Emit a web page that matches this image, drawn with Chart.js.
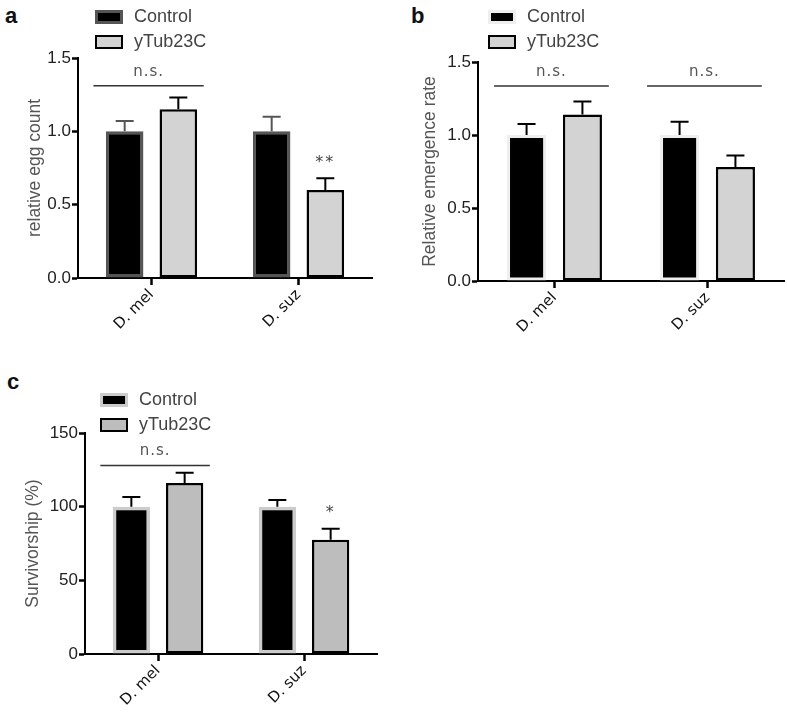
<!DOCTYPE html>
<html>
<head>
<meta charset="utf-8">
<script src="https://cdn.jsdelivr.net/npm/chart.js@4.4.1/dist/chart.umd.min.js"></script>
<style>
  body { margin: 0; background: #fff; }
  #fig { position: relative; width: 787px; height: 712px; font-family: "Liberation Sans", Arial, sans-serif; }
  .panel { position: absolute; }
  .letter { position: absolute; font-weight: bold; font-size: 22px; color: #111; line-height: 1; }
  .legend { position: absolute; font-size: 18px; color: #444; }
  .legend .item { display: flex; align-items: center; height: 25px; }
  .swatch { box-sizing: border-box; width: 28px; height: 14px; margin-right: 11px; }
</style>
</head>
<body>
<div id="fig">
  <div class="letter" style="left:5px;top:5px;">a</div>
  <div class="letter" style="left:411px;top:5px;">b</div>
  <div class="letter" style="left:7px;top:371px;">c</div>

  <canvas id="chartA" class="panel" width="390" height="375" style="left:0;top:0;"></canvas>
  <canvas id="chartB" class="panel" width="397" height="375" style="left:390px;top:0;"></canvas>
  <canvas id="chartC" class="panel" width="390" height="337" style="left:0;top:375px;"></canvas>

  <div class="legend" id="legendA" style="left:95px;top:4px;"></div>
  <div class="legend" id="legendB" style="left:488px;top:4px;"></div>
  <div class="legend" id="legendC" style="left:100px;top:387px;"></div>
</div>

<script>
"use strict";

// categories / series
const categories = ["D. mel", "D. suz"];
const seriesNames = ["Control", "yTub23C"];

// a - egg count
const eggControl = [1.0, 1.0];
const eggControlErr = [0.07, 0.10];
const eggTub = [1.15, 0.60];
const eggTubErr = [0.08, 0.08];
const eggTicks = [0, 0.5, 1.0, 1.5];

// b - emergence
const emergControl = [1.0, 1.0];
const emergControlErr = [0.075, 0.09];
const emergTub = [1.14, 0.78];
const emergTubErr = [0.09, 0.08];
const emergTicks = [0, 0.5, 1.0, 1.5];

// c - survivorship
const survControl = [100, 100];
const survControlErr = [6.6, 4.5];
const survTub = [116, 77.5];
const survTubErr = [7, 7.5];
const survTicks = [0, 50, 100, 150];

// significance marks (values in data units)
const eggSig = [{ cat: 0, text: "n.s.", value: 1.31 }];
const eggStars = [{ cat: 1, series: 1, text: "**", value: 0.76 }];
const emergSig = [{ cat: 0, text: "n.s.", value: 1.335 }, { cat: 1, text: "n.s.", value: 1.335 }];
const emergStars = [];
const survSig = [{ cat: 0, text: "n.s.", value: 128 }];
const survStars = [{ cat: 1, series: 1, text: "*", value: 93 }];

// error bars + n.s. lines + stars
const annotPlugin = {
  id: "annot",
  afterDatasetsDraw(chart, args, opts) {
    const ctx = chart.ctx;
    const xs = chart.scales.x;
    const ys = chart.scales.y;

    chart.data.datasets.forEach((ds, i) => {
      const meta = chart.getDatasetMeta(i);
      meta.data.forEach((bar, j) => {
        const top = ys.getPixelForValue(ds.data[j]);
        const end = ys.getPixelForValue(ds.data[j] + ds.errors[j]);
        ctx.save();
        ctx.strokeStyle = ds.errorColor;
        ctx.lineWidth = 2;
        ctx.beginPath();
        ctx.moveTo(bar.x, top);
        ctx.lineTo(bar.x, end);
        ctx.moveTo(bar.x - 9, end);
        ctx.lineTo(bar.x + 9, end);
        ctx.stroke();
        ctx.restore();
      });
    });

    const catW = (xs.right - xs.left) / categories.length;
    (opts.sig || []).forEach((s) => {
      const cx = xs.getPixelForValue(s.cat);
      const y = ys.getPixelForValue(s.value);
      const x1 = cx - catW * 0.395;
      const x2 = cx + catW * 0.355;
      ctx.save();
      ctx.strokeStyle = "#333";
      ctx.lineWidth = 1.5;
      ctx.beginPath();
      ctx.moveTo(x1, y);
      ctx.lineTo(x2, y);
      ctx.stroke();
      ctx.fillStyle = "#555";
      ctx.font = "15px 'DejaVu Sans'";
      ctx.letterSpacing = "1px";
      ctx.textAlign = "center";
      ctx.textBaseline = "alphabetic";
      ctx.fillText(s.text, (x1 + x2) / 2, y - 10);
      ctx.restore();
    });

    (opts.stars || []).forEach((s) => {
      const bar = chart.getDatasetMeta(s.series).data[s.cat];
      ctx.save();
      ctx.fillStyle = "#444";
      ctx.font = "16px 'DejaVu Sans'";
      ctx.letterSpacing = "2px";
      ctx.textAlign = "center";
      ctx.textBaseline = "alphabetic";
      ctx.fillText(s.text, bar.x, ys.getPixelForValue(s.value));
      ctx.restore();
    });
  },
};

function barSet(label, data, errors, fill, border, bw, errColor) {
  return {
    label: label,
    data: data,
    errors: errors,
    errorColor: errColor,
    backgroundColor: fill,
    borderColor: border,
    borderWidth: bw,
    borderSkipped: false,
    categoryPercentage: 0.73,
    barPercentage: 0.7,
  };
}

function makeChart(id, g, datasets, yTicks, yTitle, fmt, sig, stars) {
  return new Chart(document.getElementById(id), {
    type: "bar",
    data: { labels: categories, datasets: datasets },
    options: {
      responsive: false,
      animation: false,
      layout: { padding: { top: g.top, right: g.right, left: 0, bottom: 0 } },
      plugins: {
        legend: { display: false },
        tooltip: { enabled: false },
        annot: { sig: sig, stars: stars },
      },
      scales: {
        x: {
          grid: { drawOnChartArea: false, offset: false, tickLength: 7, tickWidth: 2.5, tickColor: "#000" },
          border: { color: "#000", width: 2 },
          ticks: {
            color: "#111",
            font: { family: "DejaVu Sans", size: 15 },
            minRotation: 45,
            maxRotation: 45,
            padding: 1,
            autoSkip: false,
          },
          afterFit: (s) => { s.height = g.xHeight; },
        },
        y: {
          min: yTicks[0],
          max: yTicks[yTicks.length - 1],
          afterBuildTicks: (s) => { s.ticks = yTicks.map((v) => ({ value: v })); },
          grid: { drawOnChartArea: false, tickLength: 6, tickWidth: 2.5, tickColor: "#000" },
          border: { color: "#000", width: 2 },
          ticks: {
            color: "#222",
            font: { family: "Liberation Sans", size: 17 },
            padding: 1,
            callback: fmt,
          },
          title: {
            display: true,
            text: yTitle,
            color: "#555",
            font: { family: "Liberation Sans", size: 17.5 },
            padding: { top: g.titlePad, bottom: 0 },
          },
          afterFit: (s) => { s.width = g.left; },
        },
      },
    },
    plugins: [annotPlugin],
  });
}

const oneDecimal = (v) => Number(v).toFixed(1);
const integer = (v) => String(v);

const chartA = makeChart(
  "chartA",
  { left: 78, top: 58, right: 18, xHeight: 97, titlePad: 24.5 },
  [
    barSet(seriesNames[0], eggControl, eggControlErr, "#000", "#555", 3, "#555"),
    barSet(seriesNames[1], eggTub, eggTubErr, "#d3d3d3", "#000", 2.5, "#000"),
  ],
  eggTicks, "relative egg count", oneDecimal, eggSig, eggStars
);

const chartB = makeChart(
  "chartB",
  { left: 88, top: 62, right: 3, xHeight: 94, titlePad: 29.5 },
  [
    barSet(seriesNames[0], emergControl, emergControlErr, "#000", "#eee", 3, "#000"),
    barSet(seriesNames[1], emergTub, emergTubErr, "#d3d3d3", "#000", 2.5, "#000"),
  ],
  emergTicks, "Relative emergence rate", oneDecimal, emergSig, emergStars
);

const chartC = makeChart(
  "chartC",
  { left: 85, top: 58, right: 13, xHeight: 58, titlePad: 22.5 },
  [
    barSet(seriesNames[0], survControl, survControlErr, "#000", "#ccc", 3.5, "#000"),
    barSet(seriesNames[1], survTub, survTubErr, "#bdbdbd", "#000", 2.5, "#000"),
  ],
  survTicks, "Survivorship (%)", integer, survSig, survStars
);

// legends built from the chart datasets
function buildLegend(elId, chart) {
  const el = document.getElementById(elId);
  chart.data.datasets.forEach((ds) => {
    const item = document.createElement("div");
    item.className = "item";
    const sw = document.createElement("span");
    sw.className = "swatch";
    sw.style.background = ds.backgroundColor;
    sw.style.border = ds.borderWidth + "px solid " + ds.borderColor;
    const txt = document.createElement("span");
    txt.textContent = ds.label;
    item.appendChild(sw);
    item.appendChild(txt);
    el.appendChild(item);
  });
}

buildLegend("legendA", chartA);
buildLegend("legendB", chartB);
buildLegend("legendC", chartC);
</script>
</body>
</html>
